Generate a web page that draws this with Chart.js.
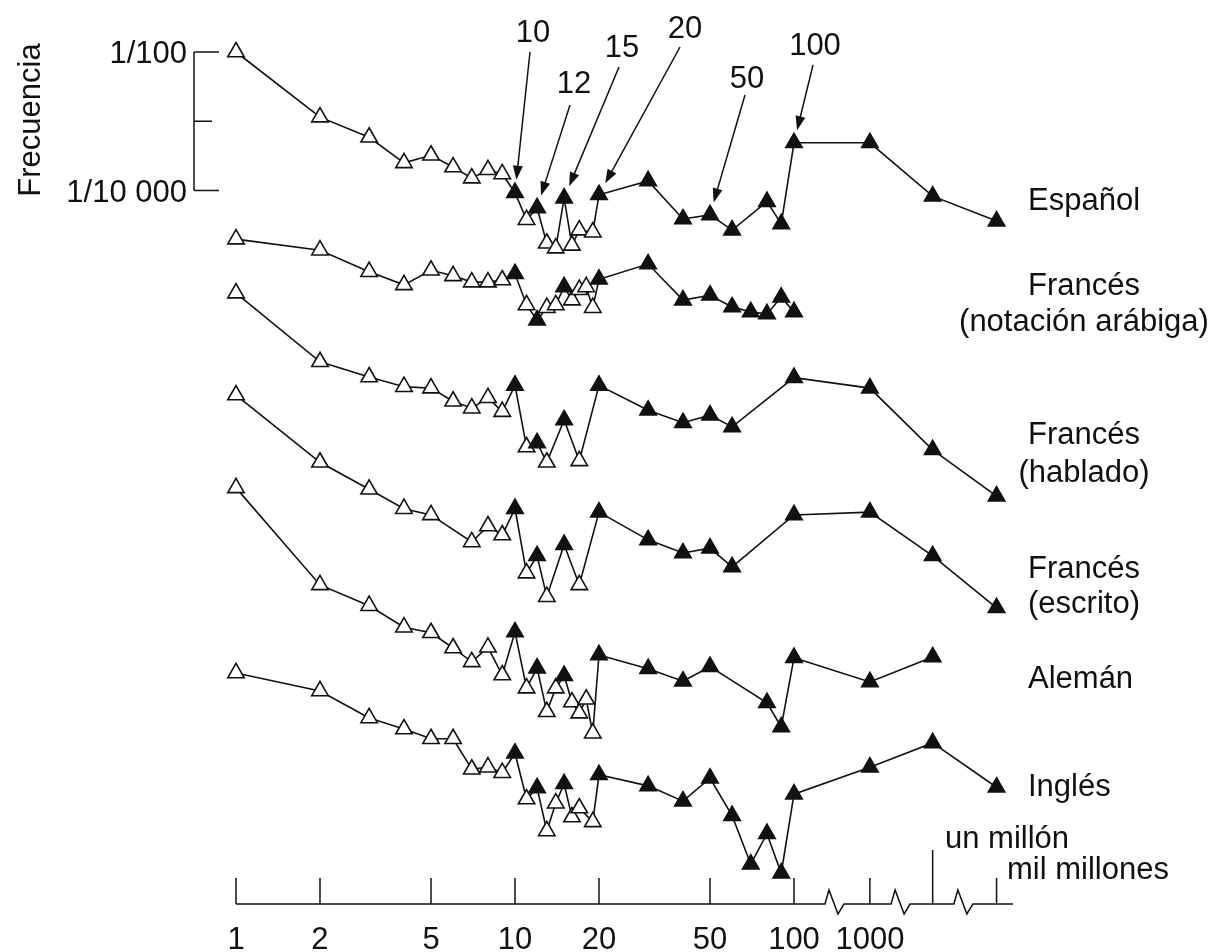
<!DOCTYPE html>
<html lang="es">
<head>
<meta charset="utf-8">
<title>Frecuencia de los números</title>
<script src="https://cdn.jsdelivr.net/npm/chart.js@4.4.1/dist/chart.umd.min.js"></script>
<style>
  html, body { margin: 0; padding: 0; background: #fff; }
  canvas { display: block; }
</style>
</head>
<body>
<canvas id="chart" width="1213" height="952"></canvas>
<script>
// values are log10(frequency); the curves are stacked,
// so every language sits on the same vertical scale (Español: 1/100 = -2)
const espanolNumbers = [1, 2, 3, 4, 5, 6, 7, 8, 9, 10, 11, 12, 13, 14, 15, 16, 17, 19, 20, 30, 40, 50, 60, 80, 90, 100, 1e3, 1e6, 1e9];
const espanolValues = [-2.00, -2.94, -3.23, -3.60, -3.49, -3.66, -3.82, -3.70, -3.76, -4.03, -4.42, -4.25, -4.76, -4.83, -4.11, -4.79, -4.57, -4.60, -4.06, -3.86, -4.41, -4.35, -4.57, -4.16, -4.48, -3.31, -3.31, -4.08, -4.44];

const arabigaNumbers = [1, 2, 3, 4, 5, 6, 7, 8, 9, 10, 11, 12, 13, 14, 15, 16, 17, 18, 19, 20, 30, 40, 50, 60, 70, 80, 90, 100];
const arabigaValues = [-4.70, -4.86, -5.17, -5.36, -5.15, -5.23, -5.32, -5.32, -5.29, -5.20, -5.65, -5.87, -5.69, -5.65, -5.39, -5.58, -5.43, -5.39, -5.69, -5.28, -5.06, -5.58, -5.51, -5.68, -5.75, -5.78, -5.54, -5.75];

const habladoNumbers = [1, 2, 3, 4, 5, 6, 7, 8, 9, 10, 11, 12, 13, 15, 17, 20, 30, 40, 50, 60, 100, 1e3, 1e6, 1e9];
const habladoValues = [-5.48, -6.47, -6.69, -6.83, -6.85, -7.04, -7.14, -6.99, -7.19, -6.81, -7.70, -7.64, -7.92, -7.31, -7.90, -6.81, -7.17, -7.35, -7.24, -7.41, -6.70, -6.85, -7.74, -8.41];

const escritoNumbers = [1, 2, 3, 4, 5, 7, 8, 9, 10, 11, 12, 13, 15, 17, 20, 30, 40, 50, 60, 100, 1e3, 1e6, 1e9];
const escritoValues = [-6.95, -7.92, -8.31, -8.59, -8.68, -9.07, -8.84, -8.97, -8.59, -9.52, -9.27, -9.86, -9.11, -9.69, -8.64, -9.04, -9.23, -9.16, -9.43, -8.68, -8.64, -9.27, -10.02];

const alemanNumbers = [1, 2, 3, 4, 5, 6, 7, 8, 9, 10, 11, 12, 13, 14, 15, 16, 17, 18, 19, 20, 30, 40, 50, 80, 90, 100, 1e3, 1e6];
const alemanValues = [-8.29, -9.69, -9.99, -10.30, -10.38, -10.60, -10.80, -10.59, -10.99, -10.37, -11.18, -10.89, -11.52, -11.18, -11.00, -11.38, -11.54, -11.34, -11.83, -10.70, -10.90, -11.08, -10.87, -11.39, -11.74, -10.74, -11.09, -10.73];

const inglesNumbers = [1, 2, 3, 4, 5, 6, 7, 8, 9, 10, 11, 12, 13, 14, 15, 16, 17, 19, 20, 30, 40, 50, 60, 70, 80, 90, 100, 1e3, 1e6, 1e9];
const inglesValues = [-10.96, -11.22, -11.61, -11.77, -11.91, -11.91, -12.35, -12.32, -12.40, -12.12, -12.78, -12.62, -13.24, -12.84, -12.56, -13.04, -12.91, -13.11, -12.43, -12.59, -12.81, -12.48, -13.02, -13.72, -13.28, -13.85, -12.71, -12.32, -11.97, -12.61];

// round numbers are drawn with filled triangles
const roundNumbers = [10, 12, 15, 20];

// x axis: log scale up to 100, then broken axis for 1000, un millón, mil millones
const brokenNumbers = [1e3, 1e6, 1e9];
const brokenPositions = [2.272, 2.497, 2.726];
const breakMarks = [2.111, 2.348, 2.573];
const tickNumbers = [1, 2, 5, 10, 20, 50, 100, 1e3, 1e6, 1e9];
const tickLabels = ['1', '2', '5', '10', '20', '50', '100', '1000', '', ''];

// frequency scale (log10) shown on the left
const freqTicks = [-2, -3, -4];
const freqLabels = ['1/100', '', '1/10 000'];

// numbers pointed at by arrows on the Español curve
const arrowNumbers = [10, 12, 15, 20, 50, 100];
const arrowTails = [[530, 52], [570, 105], [619, 67], [680, 47], [745, 95], [813, 65]];
const arrowTextPos = [[533, 42], [574, 93], [622, 57], [685, 38], [747, 88], [815, 55]];

const FONT = '31px "Liberation Sans", Arial, Helvetica, sans-serif';
const INK = '#111';

function axisPos(n) {
    const i = brokenNumbers.indexOf(n);
    return i >= 0 ? brokenPositions[i] : Math.log10(n);
}

function isFilled(n) {
    return roundNumbers.includes(n) || n >= 30;
}

function makeDataset(label, numbers, values) {
    return {
        label: label,
        data: numbers.map((n, i) => ({ x: axisPos(n), y: values[i] })),
        borderColor: INK,
        borderWidth: 1.6,
        tension: 0,
        clip: false,
        pointStyle: 'triangle',
        pointRadius: 9.5,
        pointBorderWidth: 1.6,
        pointBorderColor: INK,
        pointBackgroundColor: numbers.map(n => isFilled(n) ? INK : '#fff')
    };
}

function drawArrow(ctx, x1, y1, x2, y2) {
    const ang = Math.atan2(y2 - y1, x2 - x1);
    const c = Math.cos(ang), s = Math.sin(ang);
    const headLen = 14, headW = 5;
    ctx.beginPath();
    ctx.moveTo(x1, y1);
    ctx.lineTo(x2 - c * (headLen - 2), y2 - s * (headLen - 2));
    ctx.stroke();
    ctx.beginPath();
    ctx.moveTo(x2, y2);
    ctx.lineTo(x2 - c * headLen - s * headW, y2 - s * headLen + c * headW);
    ctx.lineTo(x2 - c * headLen + s * headW, y2 - s * headLen - c * headW);
    ctx.closePath();
    ctx.fill();
}

const decorPlugin = {
    id: 'decor',
    afterDraw(chart) {
        const { ctx } = chart;
        const xs = chart.scales.x;
        const ys = chart.scales.y;
        ctx.save();
        ctx.strokeStyle = INK;
        ctx.fillStyle = INK;
        ctx.lineWidth = 1.5;
        ctx.font = FONT;

        // frequency bracket
        const bx = 194;
        const yTop = ys.getPixelForValue(freqTicks[0]);
        const yBot = ys.getPixelForValue(freqTicks[freqTicks.length - 1]);
        ctx.beginPath();
        ctx.moveTo(bx, yTop);
        ctx.lineTo(bx, yBot);
        freqTicks.forEach((v, i) => {
            const py = ys.getPixelForValue(v);
            const end = freqLabels[i] ? 219 : 212;
            ctx.moveTo(bx, py);
            ctx.lineTo(end, py);
        });
        ctx.stroke();
        ctx.textAlign = 'right';
        ctx.textBaseline = 'alphabetic';
        freqTicks.forEach((v, i) => {
            if (freqLabels[i]) ctx.fillText(freqLabels[i], 187, ys.getPixelForValue(v) + 11);
        });

        ctx.save();
        ctx.translate(40, 120);
        ctx.rotate(-Math.PI / 2);
        ctx.textAlign = 'center';
        ctx.fillText('Frecuencia', 0, 0);
        ctx.restore();

        // bottom axis with breaks
        const axisY = 904;
        const x0 = xs.getPixelForValue(axisPos(tickNumbers[0]));
        ctx.beginPath();
        ctx.moveTo(x0, axisY);
        breakMarks.forEach(b => {
            const bxp = xs.getPixelForValue(b);
            ctx.lineTo(bxp, axisY);
            ctx.lineTo(bxp + 4, axisY - 14);
            ctx.lineTo(bxp + 13, axisY + 10);
            ctx.lineTo(bxp + 19, axisY);
        });
        ctx.lineTo(1013, axisY);
        tickNumbers.forEach(n => {
            const px = xs.getPixelForValue(axisPos(n));
            ctx.moveTo(px, axisY);
            ctx.lineTo(px, n === 1e6 ? axisY - 54 : axisY - 26);
        });
        ctx.stroke();

        ctx.textAlign = 'center';
        tickNumbers.forEach((n, i) => {
            if (tickLabels[i]) ctx.fillText(tickLabels[i], xs.getPixelForValue(axisPos(n)), 949);
        });
        ctx.textAlign = 'left';
        ctx.fillText('un millón', 945, 848);
        ctx.fillText('mil millones', 1007, 879);

        // arrows to the Español curve
        ctx.textAlign = 'center';
        arrowNumbers.forEach((n, i) => {
            const idx = espanolNumbers.indexOf(n);
            const px = xs.getPixelForValue(axisPos(n));
            const py = ys.getPixelForValue(espanolValues[idx]);
            const [tx, ty] = arrowTails[i];
            const len = Math.hypot(px - tx, py - ty);
            const tipX = px - (px - tx) / len * 13;
            const tipY = py - (py - ty) / len * 13;
            drawArrow(ctx, tx, ty, tipX, tipY);
            ctx.fillText(String(n), arrowTextPos[i][0], arrowTextPos[i][1]);
        });

        // series names on the right
        const labelX = 1028;
        const center = labelX + ctx.measureText('Francés').width / 2;
        ctx.textAlign = 'left';
        ctx.fillText('Español', labelX, 210);
        ctx.fillText('Francés', labelX, 295);
        ctx.fillText('Francés', labelX, 444);
        ctx.fillText('Francés', labelX, 578);
        ctx.fillText('Alemán', labelX, 688);
        ctx.fillText('Inglés', labelX, 796);
        ctx.textAlign = 'center';
        ctx.fillText('(notación arábiga)', center, 331);
        ctx.fillText('(hablado)', center, 482);
        ctx.fillText('(escrito)', center, 613);

        ctx.restore();
    }
};

const ctx = document.getElementById('chart').getContext('2d');
new Chart(ctx, {
    type: 'line',
    data: {
        datasets: [
            makeDataset('Español', espanolNumbers, espanolValues),
            makeDataset('Francés (notación arábiga)', arabigaNumbers, arabigaValues),
            makeDataset('Francés (hablado)', habladoNumbers, habladoValues),
            makeDataset('Francés (escrito)', escritoNumbers, escritoValues),
            makeDataset('Alemán', alemanNumbers, alemanValues),
            makeDataset('Inglés', inglesNumbers, inglesValues)
        ]
    },
    options: {
        responsive: false,
        animation: false,
        devicePixelRatio: 1,
        events: [],
        layout: { padding: 0, autoPadding: false },
        scales: {
            x: { type: 'linear', display: false, min: -236 / 279, max: (1213 - 236) / 279 },
            y: { type: 'linear', display: false, min: -2 - 900 / 69.3, max: -2 + 52 / 69.3 }
        },
        plugins: {
            legend: { display: false },
            tooltip: { enabled: false }
        }
    },
    plugins: [decorPlugin]
});
</script>
</body>
</html>
